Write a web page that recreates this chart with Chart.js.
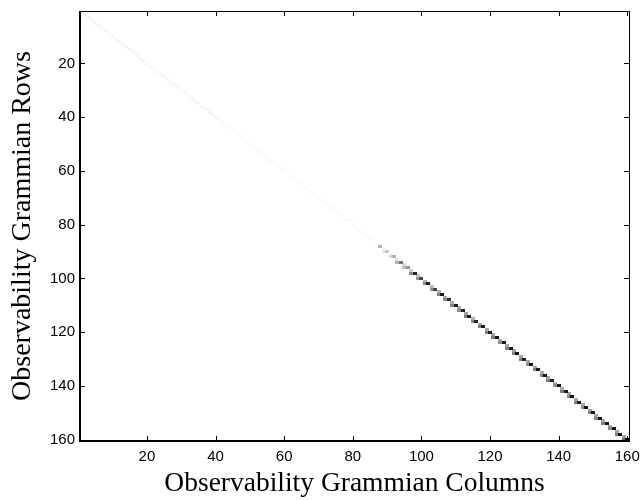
<!DOCTYPE html>
<html>
<head>
<meta charset="utf-8">
<script src="https://cdn.jsdelivr.net/npm/chart.js@4"></script>
<style>
  html, body { margin: 0; background: #fff; }
  #wrap { width: 640px; height: 500px; }
</style>
</head>
<body>
<div id="wrap"><canvas id="gramianChart"></canvas></div>
<script>
const xTicks = [20, 40, 60, 80, 100, 120, 140, 160];
const yTicks = [20, 40, 60, 80, 100, 120, 140, 160];

// main diagonal, rows 1..87 (barely visible)
const faintDiag = [
  0.035, 0.035, 0.035, 0.035, 0.035, 0.035, 0.035, 0.035, 0.035, 0.035,
  0.035, 0.035, 0.035, 0.035, 0.035, 0.035, 0.035, 0.035, 0.035, 0.035,
  0.03, 0.03, 0.03, 0.03, 0.03, 0.03, 0.03, 0.03, 0.03, 0.03,
  0.03, 0.03, 0.03, 0.03, 0.03, 0.03, 0.03, 0.03, 0.03, 0.03,
  0.025, 0.025, 0.025, 0.025, 0.025, 0.025, 0.025, 0.025, 0.025, 0.025,
  0.025, 0.025, 0.025, 0.025, 0.025, 0.025, 0.025, 0.025, 0.025, 0.025,
  0.02, 0.02, 0.02, 0.02, 0.02, 0.02, 0.02, 0.02, 0.02, 0.02,
  0.02, 0.02, 0.02, 0.02, 0.02, 0.02, 0.02, 0.02, 0.02, 0.02,
  0.02, 0.02, 0.02, 0.02, 0.02, 0.02, 0.02,
];

// main diagonal, rows 88..160
const strongDiag = [
  0.30, 0.05, 0.22, 0.06, 0.30, 0.10, 0.55, 0.14, 0.42, 0.18,
  0.85, 0.24, 0.72, 0.30, 0.88, 0.28, 0.75, 0.32, 0.90, 0.34,
  0.82, 0.32, 0.88, 0.34, 0.85, 0.36, 0.90, 0.32, 0.86, 0.35,
  0.90, 0.34, 0.88, 0.36, 0.92, 0.32, 0.88, 0.35, 0.90, 0.36,
  0.92, 0.34, 0.88, 0.36, 0.92, 0.35, 0.90, 0.34, 0.92, 0.36,
  0.88, 0.35, 0.92, 0.34, 0.90, 0.36, 0.92, 0.35, 0.90, 0.34,
  0.92, 0.36, 0.90, 0.35, 0.92, 0.34, 0.90, 0.36, 0.92, 0.35,
  0.90, 0.36, 0.95,
];

// cell just left of the diagonal (row r, column r-1), rows 89..160
const subDiag = [
  0.00, 0.10, 0.00, 0.15, 0.00, 0.30, 0.00, 0.25, 0.00, 0.45,
  0.00, 0.40, 0.00, 0.45, 0.00, 0.40, 0.00, 0.50, 0.00, 0.45,
  0.00, 0.48, 0.00, 0.45, 0.00, 0.50, 0.00, 0.45, 0.00, 0.50,
  0.00, 0.48, 0.00, 0.50, 0.00, 0.45, 0.00, 0.50, 0.00, 0.48,
  0.00, 0.50, 0.00, 0.45, 0.00, 0.50, 0.00, 0.48, 0.00, 0.50,
  0.00, 0.45, 0.00, 0.50, 0.00, 0.48, 0.00, 0.50, 0.00, 0.45,
  0.00, 0.50, 0.00, 0.48, 0.00, 0.50, 0.00, 0.45, 0.00, 0.50,
  0.00, 0.55,
];

// small filled canvases used as point styles, one per gray level
const cellCache = {};
function cellImage(v) {
  const key = v.toFixed(3);
  if (!cellCache[key]) {
    const c = document.createElement("canvas");
    c.width = 4;
    c.height = 3;
    const g = Math.round(255 * (1 - v));
    const cx = c.getContext("2d");
    cx.fillStyle = "rgb(" + g + "," + g + "," + g + ")";
    cx.fillRect(0, 0, 4, 3);
    cellCache[key] = c;
  }
  return cellCache[key];
}

const diagValues = faintDiag.concat(strongDiag);
const cells = [];
subDiag.forEach((v, i) => {
  const row = 89 + i;
  if (v > 0) cells.push({ x: row - 1, y: row, v: v });
});
diagValues.forEach((v, i) => {
  cells.push({ x: i + 1, y: i + 1, v: v });
});
// lighter cells first so the dark ones sit on top
cells.sort((a, b) => a.v - b.v);

// MATLAB-style box with inward tick marks on all four sides
const framePlugin = {
  id: "frame",
  afterDraw(chart) {
    const { ctx, chartArea: a, scales } = chart;
    ctx.save();
    ctx.strokeStyle = "#000";
    ctx.lineWidth = 1;
    ctx.strokeRect(a.left + 0.5, a.top + 0.5, a.right - a.left, a.bottom - a.top);
    ctx.lineWidth = 2;
    ctx.beginPath();
    ctx.moveTo(a.left, a.top);
    ctx.lineTo(a.left, a.bottom);
    ctx.lineTo(a.right, a.bottom);
    ctx.stroke();
    ctx.lineWidth = 1;
    ctx.beginPath();
    for (const t of xTicks) {
      const px = Math.round(scales.x.getPixelForValue(t)) + 0.5;
      ctx.moveTo(px, a.bottom);
      ctx.lineTo(px, a.bottom - 5);
      ctx.moveTo(px, a.top);
      ctx.lineTo(px, a.top + 5);
    }
    for (const t of yTicks) {
      const py = Math.round(scales.y.getPixelForValue(t)) + 0.5;
      ctx.moveTo(a.left, py);
      ctx.lineTo(a.left + 5, py);
      ctx.moveTo(a.right, py);
      ctx.lineTo(a.right - 5, py);
    }
    ctx.stroke();
    ctx.restore();
  },
};

const tickFont = { family: "'Liberation Sans', Arial, sans-serif", size: 15 };
const titleFont = { family: "'Liberation Serif', 'Times New Roman', serif", size: 28 };

new Chart(document.getElementById("gramianChart"), {
  type: "scatter",
  data: {
    datasets: [{
      data: cells,
      pointStyle: (c) => cellImage(c.raw ? c.raw.v : 0),
      pointRadius: 2,
      pointHoverRadius: 2,
    }],
  },
  options: {
    responsive: true,
    maintainAspectRatio: false,
    animation: false,
    events: [],
    layout: { padding: { top: 11, right: 11, left: 0, bottom: 0 } },
    plugins: {
      legend: { display: false },
      tooltip: { enabled: false },
    },
    scales: {
      x: {
        type: "linear",
        min: 0.5,
        max: 160.5,
        grid: { display: false, drawTicks: false },
        border: { display: false },
        afterBuildTicks: (s) => { s.ticks = xTicks.map((v) => ({ value: v })); },
        afterFit: (s) => {
          s.height = 59;
          s.paddingLeft = 0;
          s.paddingRight = 0;
        },
        ticks: { color: "#000", font: tickFont, padding: 7, maxRotation: 0, autoSkip: false },
        title: {
          display: true,
          text: "Observability Grammian Columns",
          color: "#000",
          font: { family: titleFont.family, size: 27.5 },
          padding: { top: 0, bottom: 0 },
        },
      },
      y: {
        type: "linear",
        reverse: true,
        min: 0.5,
        max: 160.5,
        grid: { display: false, drawTicks: false },
        border: { display: false },
        afterBuildTicks: (s) => { s.ticks = yTicks.map((v) => ({ value: v })); },
        afterFit: (s) => {
          s.width = 80;
          s.paddingTop = 0;
          s.paddingBottom = 0;
        },
        ticks: { color: "#000", font: tickFont, padding: 5, autoSkip: false },
        title: {
          display: true,
          text: "Observability Grammian Rows",
          color: "#000",
          font: titleFont,
          padding: { top: 6, bottom: 0 },
        },
      },
    },
  },
  plugins: [framePlugin],
});
</script>
</body>
</html>
